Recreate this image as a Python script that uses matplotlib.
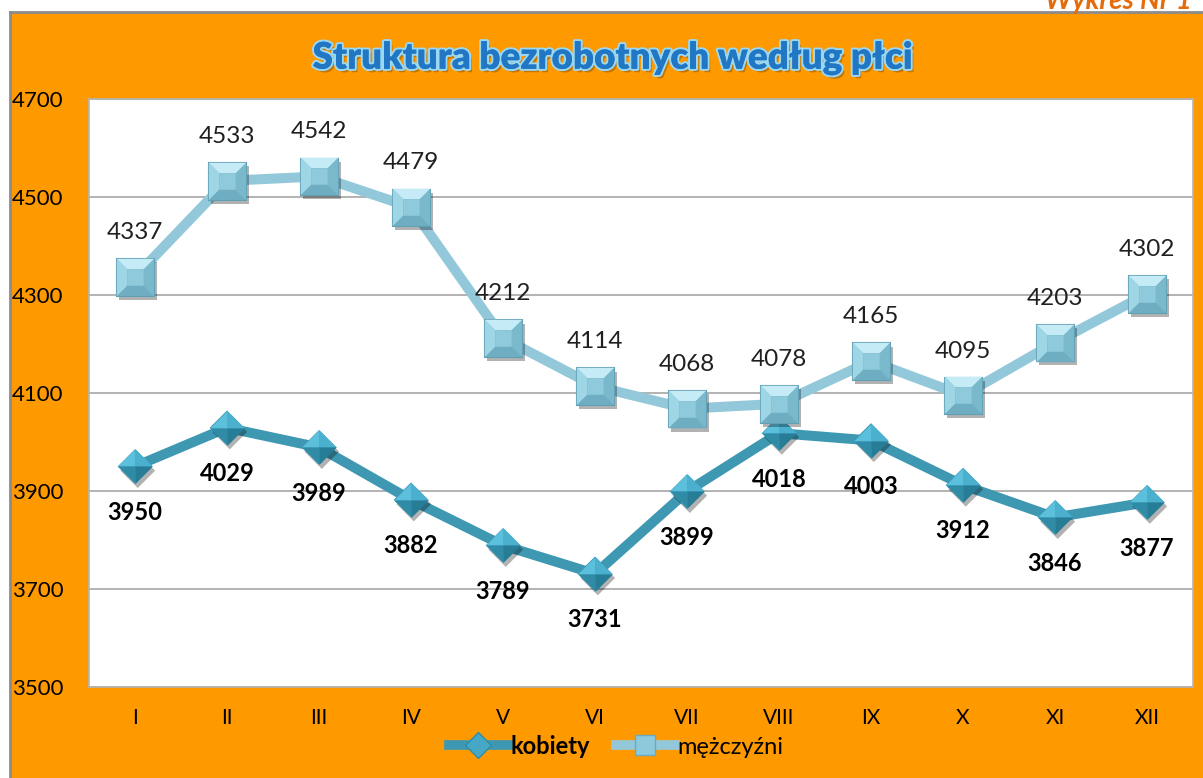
import matplotlib
matplotlib.use("Agg")
import matplotlib.pyplot as plt
from matplotlib.path import Path
from matplotlib.patches import Rectangle
from matplotlib.lines import Line2D
import matplotlib.patheffects as pe

months = ["I", "II", "III", "IV", "V", "VI", "VII", "VIII", "IX", "X", "XI", "XII"]
kobiety = [3950, 4029, 3989, 3882, 3789, 3731, 3899, 4018, 4003, 3912, 3846, 3877]
mezczyzni = [4337, 4533, 4542, 4479, 4212, 4114, 4068, 4078, 4165, 4095, 4203, 4302]
yticks = [3500, 3700, 3900, 4100, 4300, 4500, 4700]

FONT = "Lato"
ORANGE = "#FF9900"
K_LINE = "#3E98B2"
M_LINE = "#93C8DA"

fig = plt.figure(figsize=(12.03, 7.78), dpi=100)
fig.patch.set_facecolor("white")
# orange chart background with grey border (left & top)
bg = Rectangle((10 / 1203, 0), 1 - 10 / 1203, 1 - 12 / 778, transform=fig.transFigure,
               facecolor=ORANGE, edgecolor="none", zorder=-10)
fig.patches.append(bg)
fig.add_artist(Line2D([10 / 1203, 10 / 1203], [0, 1 - 12 / 778], transform=fig.transFigure,
                      color="#8c8c8c", lw=2, zorder=-5))
fig.add_artist(Line2D([10 / 1203, 1], [1 - 12 / 778, 1 - 12 / 778], transform=fig.transFigure,
                      color="#8c8c8c", lw=2, zorder=-5))

fig.text(1045 / 1203, 1 - 1 / 778, "Wykres Nr 1", fontsize=20, fontweight="bold",
         fontstyle="italic", color="#E46C0A", family=FONT, ha="left", va="center", zorder=-4)

ax = fig.add_axes([89 / 1203, 1 - 687 / 778, (1193 - 89) / 1203, (687 - 99) / 778])
ax.set_zorder(1)
ax.set_facecolor("white")
x = list(range(len(months)))
ax.set_xlim(-0.5, len(months) - 0.5)
ax.set_ylim(3500, 4700)
ax.set_yticks(yticks)
ax.set_yticklabels([str(v) for v in yticks], family=FONT, fontsize=16, ha="left")
ax.set_xticks(x)
ax.set_xticklabels(months, family=FONT, fontsize=15)
ax.tick_params(axis="y", length=0, pad=55.5)
ax.tick_params(axis="x", length=0, pad=15)
ax.grid(axis="y", color="#a6a6a6", lw=1.2)
ax.set_axisbelow(True)
for s in ax.spines.values():
    s.set_color("#b5b5b5")
    s.set_linewidth(1.2)

# custom facetted markers
def poly(pts):
    verts = [(1, 1)] + pts + [pts[0]]
    codes = [Path.MOVETO, Path.MOVETO] + [Path.LINETO] * (len(pts) - 1) + [Path.CLOSEPOLY]
    return Path(verts, codes)

i_ = 0.45
sq_top = poly([(-1, 1), (1, 1), (i_, i_), (-i_, i_)])
sq_left = poly([(-1, 1), (-i_, i_), (-i_, -i_), (-1, -1)])
sq_right = poly([(1, 1), (1, -1), (i_, -i_), (i_, i_)])
sq_bot = poly([(-1, -1), (-i_, -i_), (i_, -i_), (1, -1)])
sq_mid = poly([(-i_, -i_), (i_, -i_), (i_, i_), (-i_, i_)])
sq_full = poly([(-1, -1), (1, -1), (1, 1), (-1, 1)])

di_tl = poly([(-1, 0), (0, 1), (0, 0)])
di_tr = poly([(0, 1), (1, 0), (0, 0)])
di_bl = poly([(-1, 0), (0, 0), (0, -1)])
di_br = poly([(0, 0), (1, 0), (0, -1)])
di_full = poly([(0, 1), (1, 0), (0, -1), (-1, 0)])

# kobiety
ax.plot(x, kobiety, color=K_LINE, lw=7.2, solid_capstyle="round", zorder=3)
ms_k = 25
shadow = [pe.SimplePatchShadow(offset=(2, -3), shadow_rgbFace="black", alpha=0.3), pe.Normal()]
ax.plot(x, kobiety, ls="none", marker=di_full, ms=ms_k, mfc="#3A9BB8", mec="none",
        zorder=4, path_effects=shadow)
for mk, c in [(di_tl, "#5CC0DC"), (di_tr, "#4AB0CE"), (di_bl, "#2F8BA6"), (di_br, "#277C96")]:
    ax.plot(x, kobiety, ls="none", marker=mk, ms=ms_k, mfc=c, mec="none", zorder=5)

# mężczyźni
ax.plot(x, mezczyzni, color=M_LINE, lw=7.2, solid_capstyle="round", zorder=6)
ms_m = 27
ax.plot(x, mezczyzni, ls="none", marker=sq_full, ms=ms_m, mfc="#7FBDD0", mec="#5d9cb0",
        mew=0.8, zorder=7, path_effects=shadow)
for mk, c in [(sq_top, "#C5ECF6"), (sq_left, "#9FD6E6"), (sq_right, "#7AB9CC"),
              (sq_bot, "#6FAEC2"), (sq_mid, "#8FCADC")]:
    ax.plot(x, mezczyzni, ls="none", marker=mk, ms=ms_m, mfc=c, mec="none", zorder=8)

for xi, v in zip(x, kobiety):
    ax.annotate(str(v), (xi, v), xytext=(0, -33), textcoords="offset points",
                ha="center", va="center", fontsize=17, fontweight="bold",
                family=FONT, color="black", zorder=10)
for xi, v in zip(x, mezczyzni):
    ax.annotate(str(v), (xi, v), xytext=(0, 32), textcoords="offset points",
                ha="center", va="center", fontsize=17.5, family=FONT,
                color="#202020", zorder=10)

# title
t = fig.text(612 / 1203, 1 - 58 / 778, "Struktura bezrobotnych według płci", fontsize=26.5,
             fontweight="heavy", family=FONT, color="#2277C4", ha="center", va="center")
t.set_path_effects([pe.SimplePatchShadow(offset=(2, -2.5), shadow_rgbFace="#7a4a00", alpha=0.45),
                    pe.withStroke(linewidth=3, foreground="#9AD8F2"),
                    pe.Normal()])

# legend
h1 = Line2D([], [], color=K_LINE, lw=7, marker="D", ms=13, mfc="#45A9C6", mec="#2F8BA6")
h2 = Line2D([], [], color=M_LINE, lw=7, marker="s", ms=15, mfc="#8CC9DB", mec="#6AAABF")
leg = fig.legend([h1, h2], ["kobiety", "mężczyźni"], loc="center",
                 bbox_to_anchor=(616 / 1203, 1 - 746 / 778), ncol=2, frameon=False,
                 handlelength=2.5, handletextpad=0.1, columnspacing=1.1,
                 prop={"family": FONT, "size": 17})
leg.get_texts()[0].set_fontweight("bold")

fig.savefig("out.png", dpi=100, facecolor=fig.get_facecolor())
